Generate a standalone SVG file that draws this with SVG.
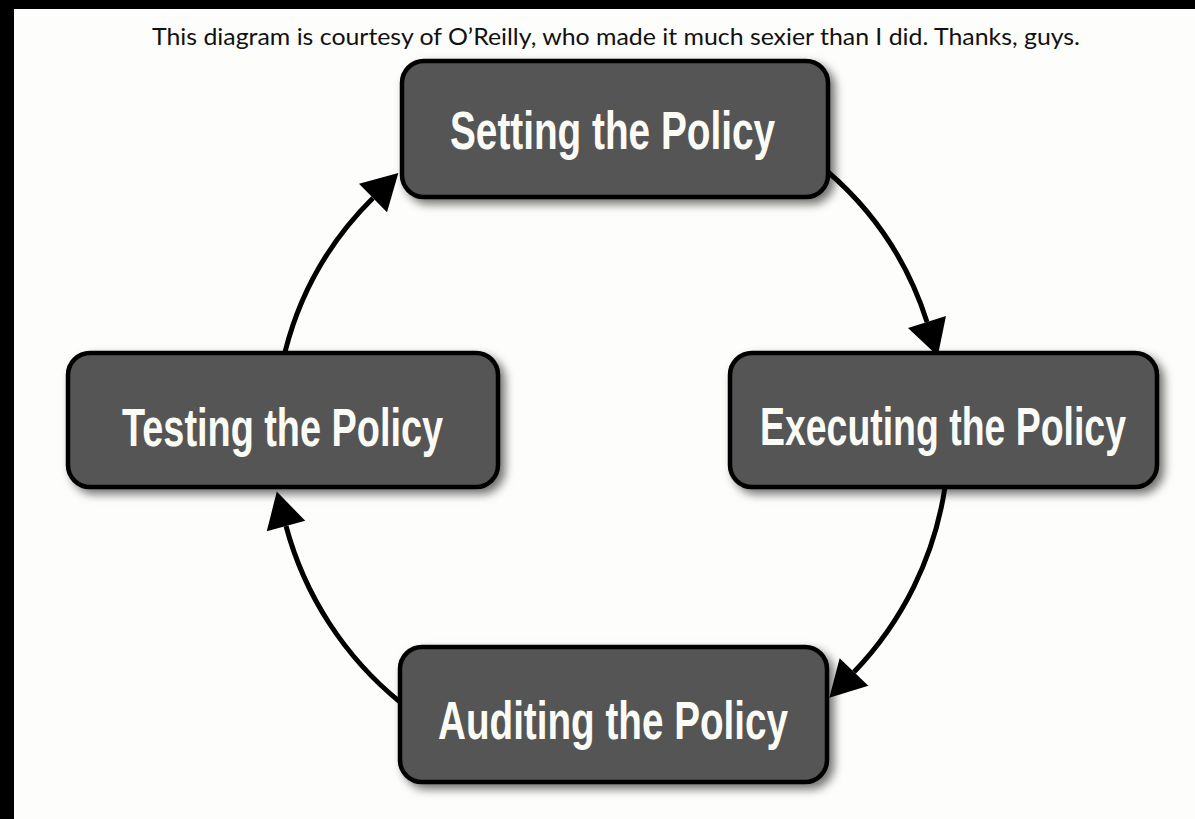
<svg xmlns="http://www.w3.org/2000/svg" width="1195" height="819" viewBox="0 0 1195 819">
<style>
.box{fill:#545454;stroke:#000;stroke-width:4.5}
.lbl{font-family:"Liberation Sans",Arial,sans-serif;font-weight:bold;font-size:54px;fill:#fbfbf6;text-anchor:start}
.cap{font-family:Lato,"Open Sans",sans-serif;font-size:23px;fill:#111}
.edge{fill:none;stroke:#000;stroke-width:5}
</style>
<defs>
<filter id="sh" x="-10%" y="-20%" width="125%" height="150%">
<feDropShadow dx="5" dy="5" stdDeviation="5" flood-color="#000" flood-opacity="0.55"/>
</filter>
<marker id="ah" markerUnits="userSpaceOnUse" markerWidth="40" markerHeight="44" viewBox="0 -21 36 42" refX="0" refY="0" orient="auto">
<path d="M0,-19 L34,0 L0,19 z" fill="#000"/>
</marker>
</defs>
<rect x="0" y="0" width="1195" height="819" fill="#fdfdfb"/>
<rect x="0" y="0" width="1195" height="9" fill="#000"/>
<rect x="0" y="0" width="14" height="819" fill="#000"/>
<text class="cap" x="152" y="45" textLength="928" lengthAdjust="spacingAndGlyphs">This diagram is courtesy of O’Reilly, who made it much sexier than I did.  Thanks, guys.</text>
<g id="connectors">
<path class="edge" d="M828,172 A330,330 0 0 1 927,322" marker-end="url(#ah)"/>
<path class="edge" d="M945,487 A340,340 0 0 1 854,672" marker-end="url(#ah)"/>
<path class="edge" d="M400,702 A340,340 0 0 1 286,526" marker-end="url(#ah)"/>
<path class="edge" d="M285,352 A330,330 0 0 1 373,198" marker-end="url(#ah)"/>
</g>
<g id="setting">
<rect class="box" x="402" y="61" width="426" height="136" rx="22" filter="url(#sh)"/>
<text class="lbl" x="450" y="149" textLength="325" lengthAdjust="spacingAndGlyphs">Setting the Policy</text>
</g>
<g id="executing">
<rect class="box" x="730" y="353" width="427" height="134" rx="22" filter="url(#sh)"/>
<text class="lbl" x="760" y="445" textLength="366" lengthAdjust="spacingAndGlyphs">Executing the Policy</text>
</g>
<g id="auditing">
<rect class="box" x="400" y="647" width="427" height="135" rx="22" filter="url(#sh)"/>
<text class="lbl" x="438" y="739" textLength="350" lengthAdjust="spacingAndGlyphs">Auditing the Policy</text>
</g>
<g id="testing">
<rect class="box" x="68" y="353" width="430" height="134" rx="22" filter="url(#sh)"/>
<text class="lbl" x="122" y="446" textLength="321" lengthAdjust="spacingAndGlyphs">Testing the Policy</text>
</g>
</svg>
